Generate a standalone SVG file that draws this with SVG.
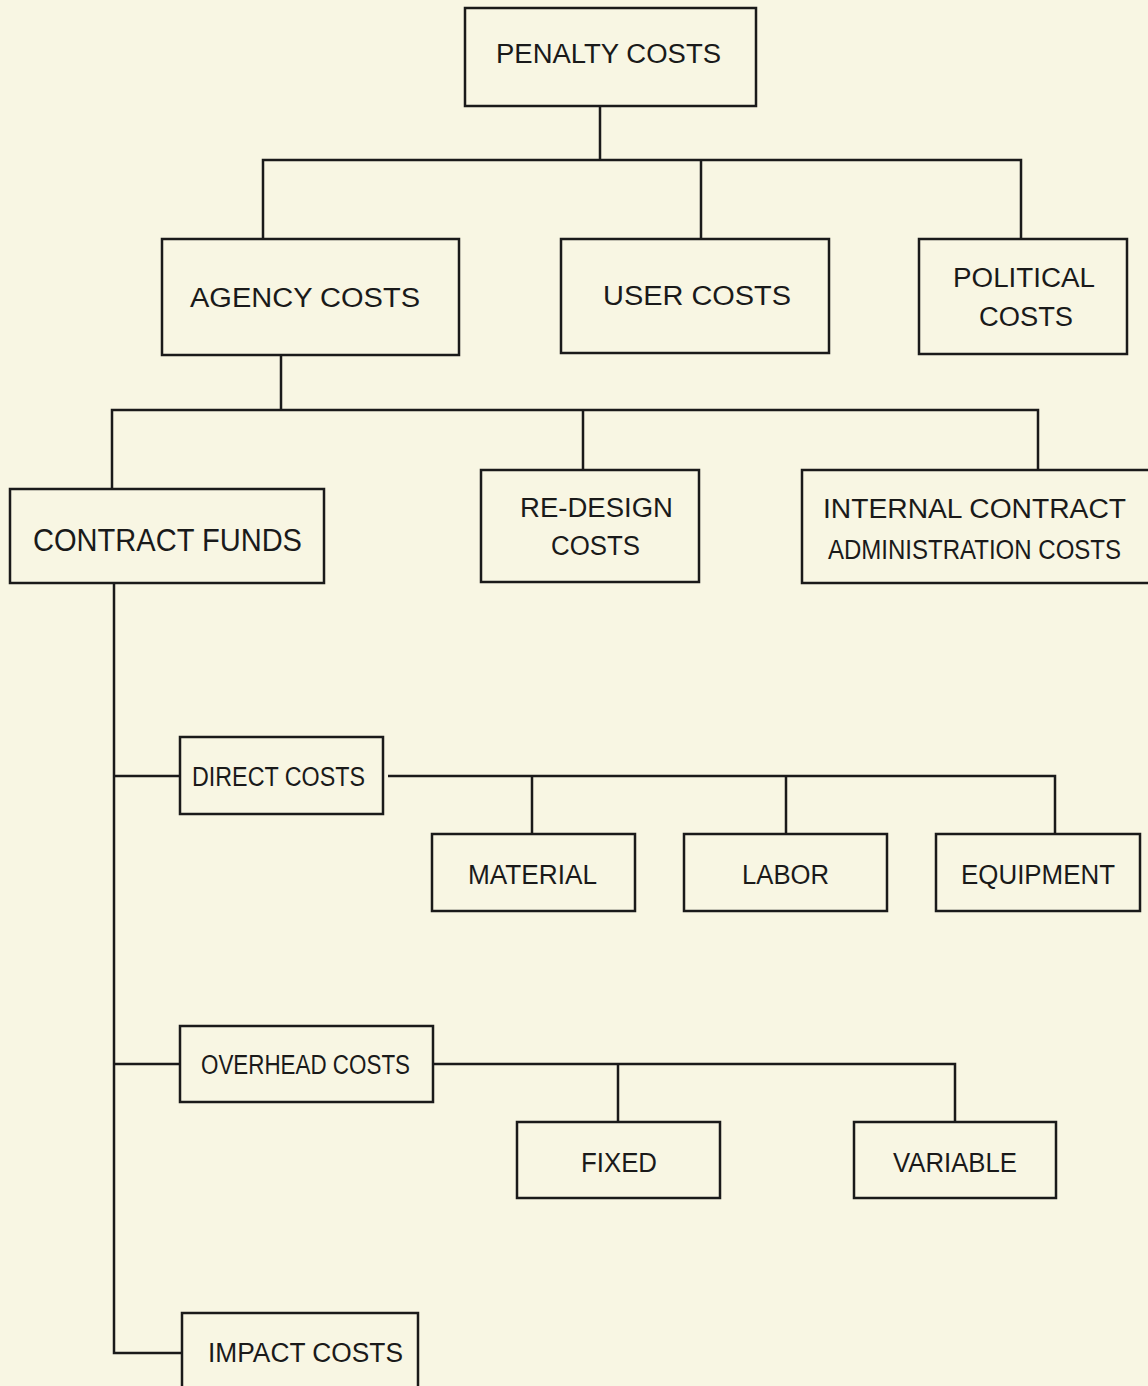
<svg xmlns="http://www.w3.org/2000/svg" width="1148" height="1386" viewBox="0 0 1148 1386">
<style>
.bg{fill:#f8f6e3}
.box{fill:none;stroke:#1a1a1a;stroke-width:2.5}
.ln{fill:none;stroke:#1a1a1a;stroke-width:2.5}
text{font-family:"Liberation Sans",Arial,sans-serif;font-size:27px;fill:#1a1a1a}
.big{font-size:32px}
</style>
<rect class="bg" x="0" y="0" width="1148" height="1386"/>
<g id="connectors">
<path class="ln" d="M600 106V160M263 239V160H1021V239M701 160V239"/>
<path class="ln" d="M281 355V410M112 489V410H1038V470M583 410V470"/>
<path class="ln" d="M114 583V1353H182M114 776H180M114 1064H180"/>
<path class="ln" d="M388 776H1055V834M532 776V834M786 776V834"/>
<path class="ln" d="M433 1064H955V1122M618 1064V1122"/>
</g>
<g id="penalty"><rect class="box" x="465" y="8" width="291" height="98"/><text x="496" y="63" textLength="225" lengthAdjust="spacingAndGlyphs">PENALTY COSTS</text></g>
<g id="agency"><rect class="box" x="162" y="239" width="297" height="116"/><text x="190" y="307" textLength="230" lengthAdjust="spacingAndGlyphs">AGENCY COSTS</text></g>
<g id="user"><rect class="box" x="561" y="239" width="268" height="114"/><text x="603" y="305" textLength="188" lengthAdjust="spacingAndGlyphs">USER COSTS</text></g>
<g id="political"><rect class="box" x="919" y="239" width="208" height="115"/><text x="953" y="287" textLength="142" lengthAdjust="spacingAndGlyphs">POLITICAL</text><text x="979" y="326" textLength="94" lengthAdjust="spacingAndGlyphs">COSTS</text></g>
<g id="contract-funds"><rect class="box" x="10" y="489" width="314" height="94"/><text class="big" x="33" y="551" textLength="269" lengthAdjust="spacingAndGlyphs">CONTRACT FUNDS</text></g>
<g id="redesign"><rect class="box" x="481" y="470" width="218" height="112"/><text x="520" y="517" textLength="153" lengthAdjust="spacingAndGlyphs">RE-DESIGN</text><text x="551" y="555" textLength="89" lengthAdjust="spacingAndGlyphs">COSTS</text></g>
<g id="internal"><path class="box" d="M1148 470H802V583H1148"/><text x="823" y="518" textLength="303" lengthAdjust="spacingAndGlyphs">INTERNAL CONTRACT</text><text x="828" y="559" font-size="23" textLength="293" lengthAdjust="spacingAndGlyphs">ADMINISTRATION COSTS</text></g>
<g id="direct"><rect class="box" x="180" y="737" width="203" height="77"/><text x="192" y="786" textLength="173" lengthAdjust="spacingAndGlyphs">DIRECT COSTS</text></g>
<g id="material"><rect class="box" x="432" y="834" width="203" height="77"/><text x="468" y="884" textLength="129" lengthAdjust="spacingAndGlyphs">MATERIAL</text></g>
<g id="labor"><rect class="box" x="684" y="834" width="203" height="77"/><text x="742" y="884" textLength="87" lengthAdjust="spacingAndGlyphs">LABOR</text></g>
<g id="equipment"><rect class="box" x="936" y="834" width="204" height="77"/><text x="961" y="884" textLength="154" lengthAdjust="spacingAndGlyphs">EQUIPMENT</text></g>
<g id="overhead"><rect class="box" x="180" y="1026" width="253" height="76"/><text x="201" y="1074" textLength="209" lengthAdjust="spacingAndGlyphs">OVERHEAD COSTS</text></g>
<g id="fixed"><rect class="box" x="517" y="1122" width="203" height="76"/><text x="581" y="1172" textLength="76" lengthAdjust="spacingAndGlyphs">FIXED</text></g>
<g id="variable"><rect class="box" x="854" y="1122" width="202" height="76"/><text x="893" y="1172" textLength="124" lengthAdjust="spacingAndGlyphs">VARIABLE</text></g>
<g id="impact"><path class="box" d="M182 1386V1313H418V1386"/><text x="208" y="1362" textLength="195" lengthAdjust="spacingAndGlyphs">IMPACT COSTS</text></g>
</svg>
